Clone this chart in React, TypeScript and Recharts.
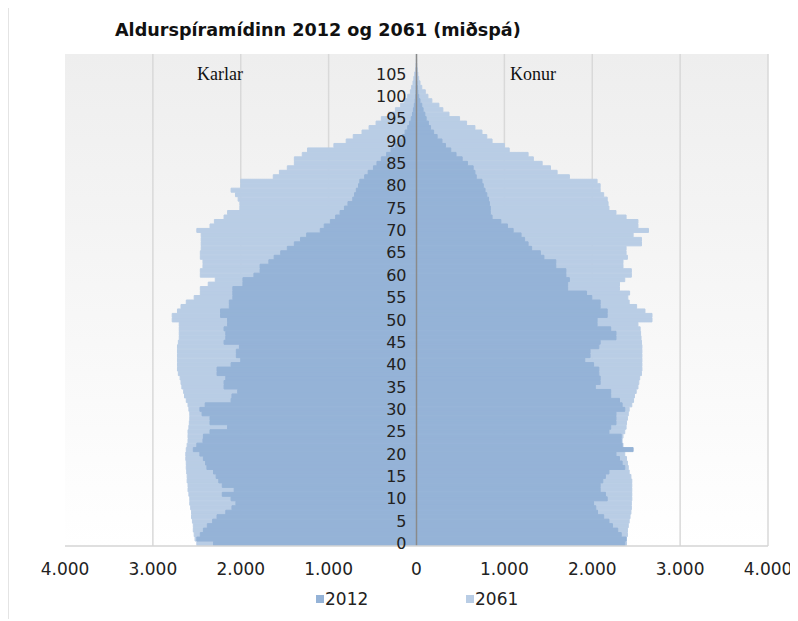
import { BarChart, Bar, XAxis, YAxis, CartesianGrid, ReferenceLine, LabelList } from 'recharts';

// aldur 0-109
const ages = Array.from({ length: 110 }, (_, i) => i);

const male2012 = [
  2310, 2500, 2460, 2425, 2380, 2320, 2270, 2170, 2100, 2055,
  2110, 2210, 2075, 2210, 2250, 2280, 2310, 2385, 2400, 2425,
  2465, 2540, 2500, 2430, 2425, 2350, 2150, 2350, 2350, 2440,
  2465, 2405, 2110, 2100, 2035, 2190, 2190, 2170, 2270, 2270,
  2110, 2000, 2050, 2050, 2015, 2190, 2170, 2170, 2190, 2150,
  2150, 2230, 2230, 2130, 2130, 2090, 2090, 2090, 1975, 1975,
  1850, 1780, 1780, 1680, 1620, 1545, 1470, 1390, 1320, 1250,
  1095, 1050, 980, 920, 870, 820, 780, 725, 705, 685,
  660, 645, 590, 550, 490, 450, 400, 340, 290, 240,
  200, 160, 130, 100, 80, 60, 45, 35, 25, 15,
  10, 6, 4, 2, 1, 1, 0, 0, 0, 0,
];

const female2012 = [
  2370, 2385, 2330, 2290, 2230, 2190, 2130, 2060, 2040, 2015,
  2170, 2150, 2090, 2090, 2120, 2150, 2190, 2370, 2340, 2310,
  2270, 2465, 2340, 2330, 2330, 2190, 2210, 2270, 2270, 2270,
  2370, 2340, 2310, 2210, 2210, 2035, 2090, 2090, 2075, 2075,
  2015, 1915, 1975, 1975, 2075, 2090, 2270, 2270, 2210, 2055,
  2055, 2170, 2170, 2090, 2090, 1995, 1935, 1720, 1720, 1740,
  1700, 1700, 1585, 1585, 1450, 1410, 1310, 1270, 1230, 1190,
  1100, 1035, 960, 860, 840, 840, 830, 820, 800, 780,
  760, 745, 680, 665, 645, 580, 520, 450, 390, 330,
  290, 235, 195, 160, 135, 110, 95, 75, 60, 40,
  25, 15, 10, 5, 3, 2, 1, 0, 0, 0,
];

const male2061 = [
  2500, 2520, 2530, 2540, 2540, 2550, 2560, 2560, 2570, 2580,
  2580, 2590, 2600, 2600, 2610, 2610, 2615, 2620, 2620, 2625,
  2625, 2620, 2610, 2600, 2600, 2600, 2590, 2585, 2580, 2580,
  2590, 2600, 2620, 2640, 2650, 2670, 2680, 2690, 2710, 2720,
  2720, 2720, 2720, 2720, 2720, 2710, 2700, 2700, 2700, 2700,
  2780, 2780, 2720, 2680, 2620, 2530, 2460, 2460, 2370, 2290,
  2460, 2460, 2430, 2430, 2460, 2460, 2450, 2450, 2450, 2450,
  2500, 2350, 2300, 2190, 2150, 2010, 2010, 2030, 2060, 2110,
  2000, 2000, 1630, 1560, 1470, 1390, 1390, 1300, 1240, 940,
  800, 720, 620, 540, 460, 400, 320, 240, 180, 135,
  100, 70, 55, 40, 30, 20, 10, 5, 2, 1,
];

const female2061 = [
  2390, 2390, 2400, 2400, 2410, 2420, 2430, 2440, 2445, 2445,
  2450, 2450, 2450, 2450, 2450, 2440, 2420, 2410, 2400, 2390,
  2370, 2360, 2350, 2340, 2350, 2370, 2385, 2390, 2400, 2410,
  2420, 2450, 2470, 2480, 2500, 2520, 2530, 2540, 2560, 2565,
  2565, 2565, 2565, 2565, 2565, 2560, 2555, 2550, 2545, 2520,
  2680, 2680, 2600, 2505, 2420, 2405, 2425, 2310, 2310, 2370,
  2445, 2445, 2350, 2350, 2400, 2385, 2385, 2560, 2560, 2465,
  2640, 2520, 2520, 2385, 2270, 2190, 2180, 2170, 2130, 2090,
  2090, 2055, 1740, 1600, 1525, 1430, 1330, 1270, 1055, 1000,
  860, 800, 745, 665, 570, 490, 370, 300, 255, 175,
  130, 100, 60, 40, 25, 15, 8, 4, 2, 1,
];

const xTicks = [-4000, -3000, -2000, -1000, 0, 1000, 2000, 3000, 4000];
const gridValues = [-3000, -2000, -1000, 1000, 2000, 3000, 4000];

const data = ages.map((age, i) => ({
  age,
  m2012: -male2012[i],
  f2012: female2012[i],
  m2061: -male2061[i],
  f2061: female2061[i],
}));

const DARK = '#95b3d7';
const LIGHT = '#b9cde5';
const FONT = "'DejaVu Sans', Verdana, sans-serif";

const fmt = (v: number) => Math.abs(v).toLocaleString('de-DE');

export default function App() {
  return (
    <div style={{ position: 'relative', width: 790, height: 612 }}>
      <div style={{ position: 'absolute', left: 0, top: -2, width: 790, height: 612, borderLeft: '1px solid #e4e4e4', borderTop: '1px solid #e4e4e4' }} />
      <div style={{ position: 'absolute', left: 107, top: 12, fontFamily: FONT, fontWeight: 'bold', fontSize: 17.6, lineHeight: '20px', whiteSpace: 'nowrap', color: '#111' }}>
        Aldurspíramídinn 2012 og 2061 (miðspá)
      </div>
      <BarChart
        width={790}
        height={610}
        data={data}
        layout="vertical"
        stackOffset="sign"
        barCategoryGap={0}
        barGap={0}
        margin={{ top: 46, right: 30, bottom: 42, left: 57 }}
      >
        <defs>
          <linearGradient id="bg" x1="0" y1="0" x2="0" y2="1">
            <stop offset="0%" stopColor="#eeeeee" />
            <stop offset="100%" stopColor="#ffffff" />
          </linearGradient>
        </defs>
        <CartesianGrid horizontal={false} verticalValues={gridValues} stroke="#d9d9d9" strokeWidth={1.5} fill="url(#bg)" />
        <XAxis
          type="number"
          domain={[-4000, 4000]}
          ticks={xTicks}
          tickFormatter={fmt}
          tickLine={false}
          tickMargin={11}
          axisLine={{ stroke: '#d4d4d4', strokeWidth: 1.5 }}
          tick={{ fill: '#222', fontSize: 17, fontFamily: FONT }}
          height={30}
        />
        <YAxis yAxisId="a" type="category" dataKey="age" reversed hide />
        <YAxis yAxisId="b" type="category" dataKey="age" reversed hide />
        <Bar yAxisId="a" dataKey="m2061" stackId="s61" fill={LIGHT} stroke={LIGHT} strokeWidth={1} isAnimationActive={false} />
        <Bar yAxisId="a" dataKey="f2061" stackId="s61" fill={LIGHT} stroke={LIGHT} strokeWidth={1} isAnimationActive={false} />
        <Bar yAxisId="b" dataKey="m2012" stackId="s12" fill={DARK} stroke={DARK} strokeWidth={1} isAnimationActive={false} />
        <Bar yAxisId="b" dataKey="f2012" stackId="s12" fill={DARK} stroke={DARK} strokeWidth={1} isAnimationActive={false}>
          <LabelList
            dataKey="age"
            position="left"
            offset={10}
            formatter={(v: any) => (Number(v) % 5 === 0 && Number(v) <= 105 ? String(v) : '')}
            fill="#222"
            stroke="none"
            fontSize={16}
            fontFamily={FONT}
          />
        </Bar>
        <ReferenceLine yAxisId="a" x={0} stroke="#8a8a8a" strokeWidth={1.5} />
      </BarChart>
      <div style={{ position: 'absolute', left: 212, top: 56, transform: 'translateX(-50%)', fontFamily: "'Liberation Serif', serif", fontSize: 18, lineHeight: '20px', color: '#111' }}>Karlar</div>
      <div style={{ position: 'absolute', left: 525, top: 56, transform: 'translateX(-50%)', fontFamily: "'Liberation Serif', serif", fontSize: 18, lineHeight: '20px', color: '#111' }}>Konur</div>
      {[
        { name: '2012', color: DARK, left: 308 },
        { name: '2061', color: LIGHT, left: 458 },
      ].map((it) => (
        <div key={it.name} style={{ position: 'absolute', left: it.left, top: 581, display: 'flex', alignItems: 'center', fontFamily: FONT, fontSize: 17, lineHeight: '20px', color: '#222' }}>
          <span style={{ display: 'inline-block', width: 8, height: 8, background: it.color, marginRight: 1 }} />
          {it.name}
        </div>
      ))}
    </div>
  );
}
